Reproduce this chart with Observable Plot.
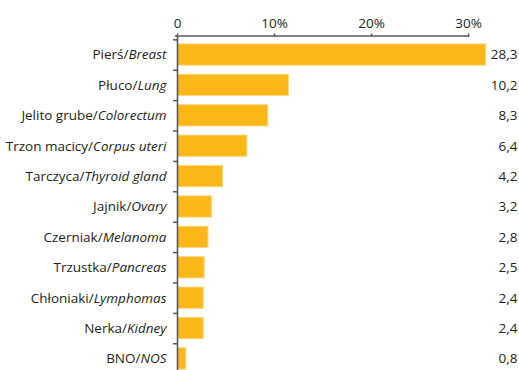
<!DOCTYPE html>
<html>
<head>
<meta charset="utf-8">
<script src="https://cdn.jsdelivr.net/npm/d3@7"></script>
<script src="https://cdn.jsdelivr.net/npm/@observablehq/plot@0.6"></script>
<style>
  html, body { margin: 0; padding: 0; overflow: hidden; background: #fff; }
  #chart svg { display: block; }
</style>
</head>
<body>
<div id="chart"></div>
<script>
// Categories (Polish / English)
const categories = [
  "Pierś/Breast", "Płuco/Lung", "Jelito grube/Colorectum", "Trzon macicy/Corpus uteri",
  "Tarczyca/Thyroid gland", "Jajnik/Ovary", "Czerniak/Melanoma", "Trzustka/Pancreas",
  "Chłoniaki/Lymphomas", "Nerka/Kidney", "BNO/NOS"
];
// Bar lengths as drawn against the % axis
const barValues = [31.8, 11.5, 9.35, 7.2, 4.7, 3.55, 3.2, 2.8, 2.7, 2.7, 0.9];
// Printed value labels
const valueLabels = ["28,3", "10,2", "8,3", "6,4", "4,2", "3,2", "2,8", "2,5", "2,4", "2,4", "0,8"];
// Axis ticks
const xTicks = [0, 10, 20, 30];
const xTickLabels = ["0", "10%", "20%", "30%"];

const data = categories.map((c, i) => ({cat: c, value: barValues[i], label: valueLabels[i]}));

const FONT = "'Open Sans', Lato, sans-serif";
const FS = 13.5;
const TEXT = "#231f20";
const AXIS = "#58595b";

const topLine = (index, scales, values, dimensions) => {
  const line = document.createElementNS("http://www.w3.org/2000/svg", "line");
  line.setAttribute("x1", scales.x(0) - 2);
  line.setAttribute("x2", scales.x(30) + 0.5);
  line.setAttribute("y1", dimensions.marginTop);
  line.setAttribute("y2", dimensions.marginTop);
  line.setAttribute("stroke", AXIS);
  line.setAttribute("stroke-width", 1.5);
  return line;
};

const chart = Plot.plot({
  width: 519,
  height: 377,
  marginTop: 36,
  marginBottom: 0,
  marginLeft: 177,
  marginRight: 33,
  style: {fontFamily: FONT, fontSize: FS + "px", color: TEXT, background: "#fff"},
  x: {domain: [0, 31.84], axis: null},
  y: {domain: categories, paddingInner: 0.3, paddingOuter: 0.26, round: false, axis: null},
  marks: [
    Plot.barX(data, {
      x: "value", y: "cat",
      fill: "#fbb718", stroke: "#fdd77e", strokeWidth: 1, insetLeft: 0.5
    }),
    Plot.axisX({
      anchor: "top", ticks: xTicks,
      tickFormat: d => xTickLabels[xTicks.indexOf(d)],
      tickSize: 3.5, tickPadding: 5, stroke: AXIS, strokeWidth: 1.5,
      fill: TEXT, fontSize: FS, label: null
    }),
    topLine,
    Plot.ruleX([0], {stroke: AXIS, strokeWidth: 1.6}),
    Plot.axisY({
      ticks: categories, tickSize: 4, tickFormat: () => "", stroke: AXIS, strokeWidth: 1.5,
      dy: -15.2, label: null
    }),
    Plot.text(data, {
      y: "cat", text: "cat", frameAnchor: "left", textAnchor: "end", dx: -11,
      fill: TEXT, fontSize: FS
    }),
    Plot.text(data, {
      y: "cat", text: "label", frameAnchor: "right", textAnchor: "end", dx: 31,
      fill: TEXT, fontSize: FS
    })
  ]
});

// Italicise the English part of each category label
chart.querySelectorAll("text").forEach(t => {
  const s = t.textContent;
  const k = s.indexOf("/");
  if (k < 0) return;
  while (t.firstChild) t.removeChild(t.firstChild);
  const a = document.createElementNS("http://www.w3.org/2000/svg", "tspan");
  a.textContent = s.slice(0, k + 1);
  const b = document.createElementNS("http://www.w3.org/2000/svg", "tspan");
  b.textContent = s.slice(k + 1);
  b.setAttribute("font-style", "italic");
  t.appendChild(a);
  t.appendChild(b);
});

document.getElementById("chart").appendChild(chart);
</script>
</body>
</html>
